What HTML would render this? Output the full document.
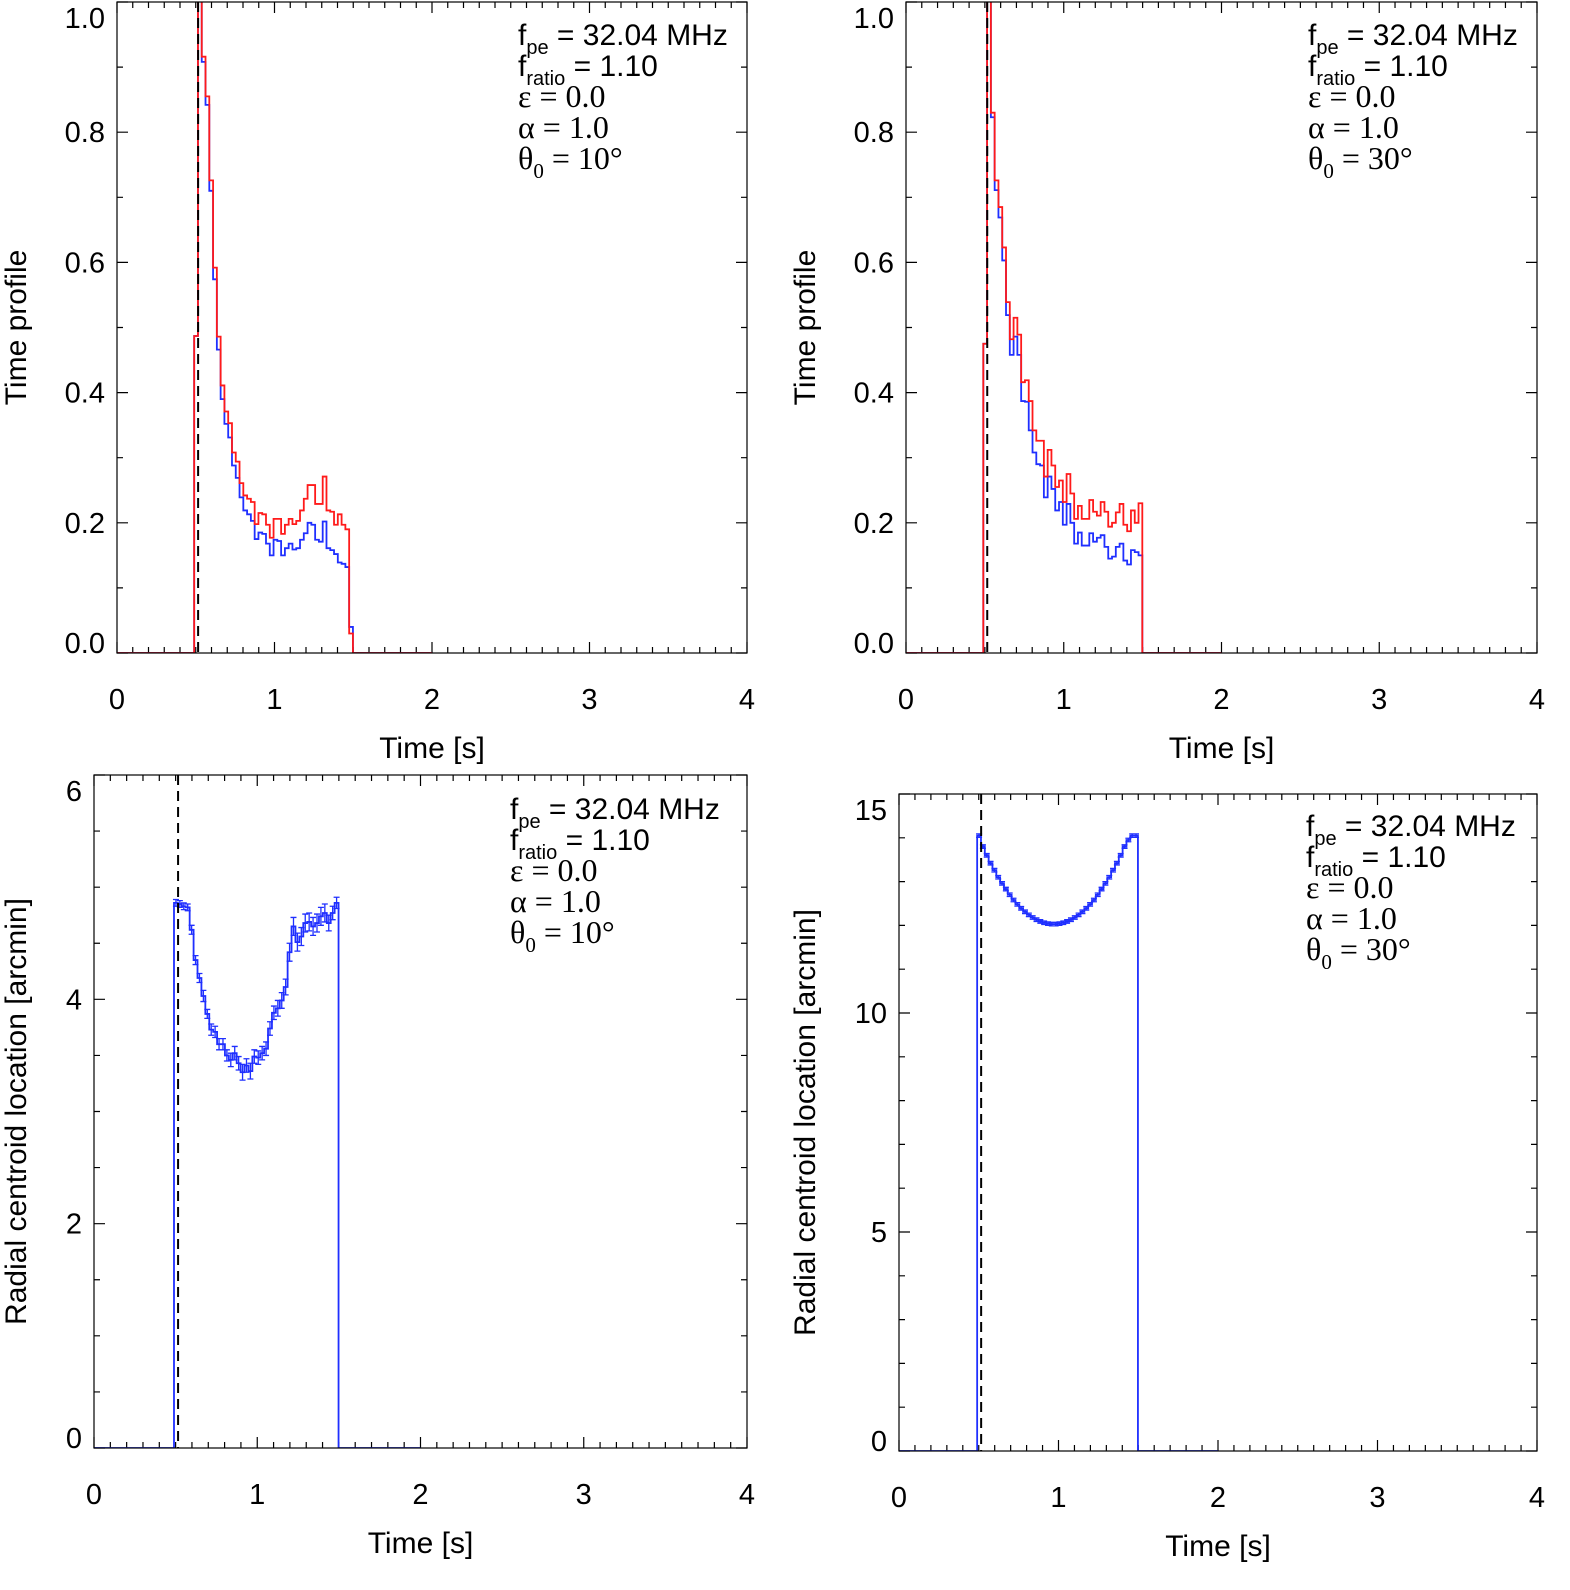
<!DOCTYPE html>
<html><head><meta charset="utf-8"><style>
html,body{margin:0;padding:0;background:#fff;}
svg{display:block;}
text{font-family:"Liberation Sans",sans-serif;}
.ser{font-family:"Liberation Serif",serif;}
</style></head><body>
<svg id="fig" width="1570" height="1590" viewBox="0 0 1570 1590" xmlns="http://www.w3.org/2000/svg"></svg>
<script>
// ---- data ----
const xTicks = [0, 1, 2, 3, 4];
const tpTicks = ["0.0", "0.2", "0.4", "0.6", "0.8", "1.0"];
const tpTickValues = [0, 0.2, 0.4, 0.6, 0.8, 1.0];
const blTickValues = [0, 2, 4, 6];
const brTickValues = [0, 5, 10, 15];
const onsetTime = 0.49;
const binWidth = 0.024;
const markerTime = 0.515;
const tlRed = [0.487,1.05,0.916,0.855,0.726,0.592,0.486,0.411,0.371,0.353,0.308,0.294,0.261,0.242,0.237,0.232,0.198,0.215,0.213,0.197,0.177,0.206,0.206,0.183,0.197,0.206,0.198,0.203,0.219,0.237,0.258,0.258,0.229,0.229,0.271,0.219,0.217,0.197,0.213,0.197,0.19,0.03];
const tlBlue = [0.487,1.05,0.908,0.842,0.71,0.574,0.466,0.39,0.352,0.331,0.288,0.269,0.239,0.219,0.213,0.203,0.175,0.185,0.183,0.168,0.15,0.174,0.172,0.15,0.161,0.168,0.159,0.161,0.174,0.184,0.2,0.197,0.174,0.171,0.202,0.161,0.158,0.152,0.139,0.137,0.132,0.04];
const trRed = [0.475,1.05,0.83,0.726,0.685,0.623,0.539,0.482,0.515,0.489,0.416,0.419,0.387,0.342,0.326,0.326,0.271,0.312,0.288,0.255,0.265,0.232,0.275,0.245,0.206,0.226,0.206,0.206,0.235,0.217,0.211,0.232,0.217,0.194,0.2,0.216,0.229,0.197,0.187,0.219,0.2,0.23];
const trBlue = [0.475,1.05,0.823,0.711,0.669,0.603,0.519,0.458,0.486,0.458,0.387,0.386,0.342,0.308,0.29,0.288,0.239,0.271,0.252,0.219,0.232,0.197,0.229,0.2,0.168,0.185,0.165,0.165,0.184,0.171,0.177,0.181,0.163,0.145,0.148,0.163,0.168,0.142,0.136,0.158,0.155,0.15];
const blCentroid = [4.86,4.85,4.83,4.82,4.62,4.35,4.19,4.03,3.87,3.73,3.71,3.6,3.6,3.5,3.46,3.52,3.43,3.35,3.41,3.36,3.49,3.48,3.52,3.56,3.74,3.88,3.92,3.99,4.11,4.42,4.65,4.51,4.56,4.68,4.69,4.65,4.68,4.74,4.77,4.68,4.77,4.86];
const blErrors = [0.03,0.03,0.03,0.03,0.04,0.04,0.04,0.05,0.04,0.05,0.05,0.05,0.05,0.05,0.06,0.06,0.06,0.07,0.06,0.07,0.06,0.06,0.06,0.06,0.06,0.06,0.07,0.07,0.07,0.08,0.08,0.08,0.08,0.08,0.08,0.08,0.08,0.08,0.08,0.07,0.06,0.05];
const brCentroid = [14.05,13.8,13.6,13.42,13.26,13.1,12.96,12.83,12.7,12.58,12.48,12.39,12.31,12.24,12.18,12.13,12.09,12.06,12.04,12.03,12.03,12.04,12.06,12.09,12.13,12.18,12.24,12.31,12.39,12.48,12.58,12.7,12.83,12.96,13.1,13.26,13.42,13.6,13.8,13.95,14.05,14.05];
const brErrors = [0.04,0.04,0.04,0.04,0.04,0.04,0.04,0.04,0.04,0.04,0.04,0.04,0.04,0.04,0.04,0.04,0.04,0.04,0.04,0.04,0.04,0.04,0.04,0.04,0.04,0.04,0.04,0.04,0.04,0.04,0.04,0.04,0.04,0.04,0.04,0.04,0.04,0.04,0.04,0.04,0.04,0.04];

const NS = "http://www.w3.org/2000/svg";
const svg = document.getElementById('fig');
function mk(tag, attrs, parent) {
  const e = document.createElementNS(NS, tag);
  for (const k in attrs) e.setAttribute(k, attrs[k]);
  (parent || svg).appendChild(e);
  return e;
}

function panel(p) {
  const g = mk('g', {});
  
  
  const sx = t => p.x0 + (t / 4) * (p.x1 - p.x0);
  const sy = v => p.y1 - (v / p.ymax) * (p.y1 - p.y0);
  const clipId = 'clip-' + p.name;
  const cp = mk('clipPath', {id: clipId}, g);
  mk('rect', {x: p.x0, y: p.y0, width: p.x1 - p.x0, height: p.y1 - p.y0}, cp);
  let td = '';
  for (let i = 0; i <= 40; i++) {
    const x = sx(i * 0.1), L = (i % 10 === 0) ? 11 : 6;
    td += `M${x} ${p.y1}v${-L}M${x} ${p.y0}v${L}`;
  }
  const ny = Math.round(p.ymax / p.yminor);
  for (let i = 0; i <= ny; i++) {
    const v = i * p.yminor, y = sy(v);
    const major = Math.abs(v / p.ymajor - Math.round(v / p.ymajor)) < 1e-6;
    const L = major ? 11 : 6;
    td += `M${p.x0} ${y}h${L}M${p.x1} ${y}h${-L}`;
  }
  const ticks = mk('path', {d: td, stroke: '#000', 'stroke-width': 1.2, fill: 'none'}, g);
  
  
  xTicks.forEach(t => {
    const tx = mk('text', {x: sx(t), y: p.y1 + 56, 'font-size': 29, 'text-anchor': 'middle'}, g);
    tx.textContent = t;
    
    
  });
  p.yTickValues.forEach((v, i) => {
    let y = sy(v) + 10;
    if (i === 0) y -= 10;
    if (i === p.yTickValues.length - 1) y += 16;
    const tx = mk('text', {x: p.x0 - 12, y: y, 'font-size': 29, 'text-anchor': 'end'}, g);
    tx.textContent = p.yTickLabels[i];
    
    
  });
  const xt = mk('text', {x: (p.x0 + p.x1) / 2, y: p.y1 + 105, 'font-size': 30, 'text-anchor': 'middle'}, g);
  xt.textContent = 'Time [s]';
  
  
  const ycx = p.ytx, ycy = (p.y0 + p.y1) / 2;
  const yt = mk('text', {x: ycx, y: ycy, 'font-size': 30, 'text-anchor': 'middle', transform: `rotate(-90 ${ycx} ${ycy})`}, g);
  yt.textContent = p.ytitle;
  
  
  const gs = mk('g', {'clip-path': `url(#${clipId})`}, g);
  p.series.forEach(s => {
    let d = `M${sx(0)} ${sy(0)}H${sx(onsetTime)}`;
    s.values.forEach((v, i) => {
      d += `V${sy(v)}H${sx(onsetTime + (i + 1) * binWidth)}`;
    });
    d += `V${sy(0)}H${sx(2)}`;
    const path = mk('path', {d: d, stroke: s.color, 'stroke-width': 1.8, fill: 'none'}, gs);
    
    
    if (s.errors) {
      let ed = '';
      s.values.forEach((v, i) => {
        const x = sx(onsetTime + (i + 0.5) * binWidth);
        const ya = sy(v - s.errors[i]), yb = sy(v + s.errors[i]);
        ed += `M${x} ${ya}V${yb}M${x - 3} ${ya}h6M${x - 3} ${yb}h6`;
      });
      const ep = mk('path', {d: ed, stroke: s.color, 'stroke-width': 1.3, fill: 'none'}, gs);
      
      
    }
  });
  const ml = mk('line', {x1: sx(markerTime), x2: sx(markerTime), y1: p.y0, y2: p.y1, stroke: '#000', 'stroke-width': 2, 'stroke-dasharray': '10 6'}, g);
  
  
  const fr = mk('rect', {x: p.x0, y: p.y0, width: p.x1 - p.x0, height: p.y1 - p.y0, fill: 'none', stroke: '#000', 'stroke-width': 1.2}, g);
  
  
  const a = mk('g', {}, g);
  
  
  const ax = p.ax, ay = p.ay, dy = 31;
  const t1 = mk('text', {x: ax, y: ay, 'font-size': 30}, a);
  t1.innerHTML = 'f<tspan font-size="20" dy="9">pe</tspan><tspan dy="-9"> = 32.04 MHz</tspan>';
  const t2 = mk('text', {x: ax, y: ay + dy, 'font-size': 30}, a);
  t2.innerHTML = 'f<tspan font-size="20" dy="9">ratio</tspan><tspan dy="-9"> = 1.10</tspan>';
  const t3 = mk('text', {x: ax, y: ay + 2 * dy, 'font-size': 32, class: 'ser'}, a);
  t3.textContent = 'ε = 0.0';
  const t4 = mk('text', {x: ax, y: ay + 3 * dy, 'font-size': 32, class: 'ser'}, a);
  t4.textContent = 'α = 1.0';
  const t5 = mk('text', {x: ax, y: ay + 4 * dy, 'font-size': 32, class: 'ser'}, a);
  t5.innerHTML = 'θ<tspan font-size="21" dy="9">0</tspan><tspan dy="-9"> = ' + p.theta + '°</tspan>';
}

panel({name: 'panel-time-profile-10deg', x0: 117, x1: 747, y0: 2, y1: 653, ymax: 1.0, ymajor: 0.2, yminor: 0.1,
  yTickValues: tpTickValues, yTickLabels: tpTicks, ytitle: 'Time profile', ytx: 26, ax: 518, ay: 45, theta: 10,
  series: [{name: 'blue-profile', color: '#1f2fff', values: tlBlue}, {name: 'red-profile', color: '#ff1a1a', values: tlRed}]});
panel({name: 'panel-time-profile-30deg', x0: 906, x1: 1537, y0: 2, y1: 653, ymax: 1.0, ymajor: 0.2, yminor: 0.1,
  yTickValues: tpTickValues, yTickLabels: tpTicks, ytitle: 'Time profile', ytx: 815, ax: 1308, ay: 45, theta: 30,
  series: [{name: 'blue-profile', color: '#1f2fff', values: trBlue}, {name: 'red-profile', color: '#ff1a1a', values: trRed}]});
panel({name: 'panel-centroid-10deg', x0: 94, x1: 747, y0: 775, y1: 1448, ymax: 6, ymajor: 2, yminor: 0.5,
  yTickValues: blTickValues, yTickLabels: blTickValues.map(String), ytitle: 'Radial centroid location [arcmin]', ytx: 26, ax: 510, ay: 819, theta: 10,
  series: [{name: 'centroid-curve', color: '#1f2fff', values: blCentroid, errors: blErrors}]});
panel({name: 'panel-centroid-30deg', x0: 899, x1: 1537, y0: 794, y1: 1451, ymax: 15, ymajor: 5, yminor: 1,
  yTickValues: brTickValues, yTickLabels: brTickValues.map(String), ytitle: 'Radial centroid location [arcmin]', ytx: 815, ax: 1306, ay: 836, theta: 30,
  series: [{name: 'centroid-curve', color: '#1f2fff', values: brCentroid, errors: brErrors}]});
</script>
</body></html>
